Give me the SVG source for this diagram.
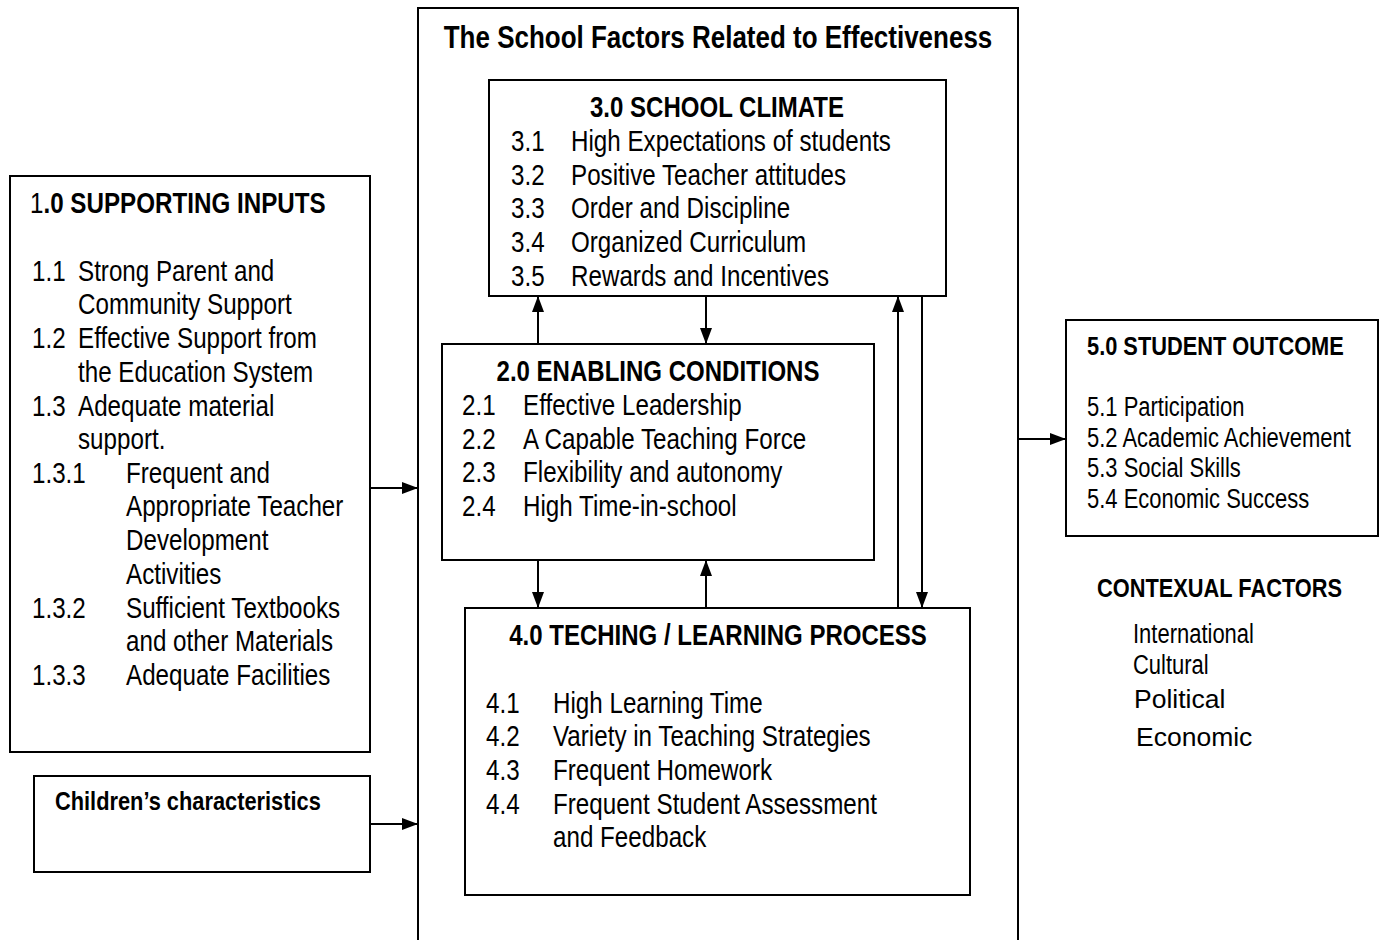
<svg xmlns="http://www.w3.org/2000/svg" width="1382" height="940" viewBox="0 0 1382 940">
<defs>
<marker id="ah" viewBox="0 0 16 12" refX="16" refY="6" markerWidth="16" markerHeight="12" markerUnits="userSpaceOnUse" orient="auto">
<path d="M0,0 L16,6 L0,12 Z" fill="#000"/>
</marker>
<style>
text{font-family:"Liberation Sans Narrow","Liberation Sans",Arial,sans-serif;fill:#000}
.b{font-weight:bold}
.box{fill:#fff;stroke:#000;stroke-width:2}
.n{font-size:29.5px}
.h{font-size:29.3px;font-weight:bold}
.ttl{font-size:31.7px;font-weight:bold}
.s{font-size:26.8px}
.sb{font-size:26.6px;font-weight:bold}
.w{font-size:26.5px}
.con{stroke:#000;stroke-width:2;fill:none;marker-end:url(#ah)}
</style>
</defs>
<rect width="1382" height="940" fill="#fff"/>
<g id="school-factors">
<path d="M418,945 V8 H1018 V945" class="box" fill="none"/>
<text transform="matrix(.82 0 0 1 718 48)" class="ttl" text-anchor="middle">The School Factors Related to Effectiveness</text>
</g>
<g id="supporting-inputs">
<rect x="10" y="176" width="360" height="576" class="box"/>
<text transform="matrix(.82 0 0 1 30 213)" class="n">1<tspan class="b">.0 SUPPORTING INPUTS</tspan></text>
<g class="n">
<text transform="matrix(.82 0 0 1 32 281)">1.1</text><text transform="matrix(.82 0 0 1 78 281)">Strong Parent and</text>
<text transform="matrix(.82 0 0 1 78 314)">Community Support</text>
<text transform="matrix(.82 0 0 1 32 348)">1.2</text><text transform="matrix(.82 0 0 1 78 348)">Effective Support from</text>
<text transform="matrix(.82 0 0 1 78 382)">the Education System</text>
<text transform="matrix(.82 0 0 1 32 416)">1.3</text><text transform="matrix(.82 0 0 1 78 416)">Adequate material</text>
<text transform="matrix(.82 0 0 1 78 449)">support.</text>
<text transform="matrix(.82 0 0 1 32 483)">1.3.1</text><text transform="matrix(.82 0 0 1 126 483)">Frequent and</text>
<text transform="matrix(.82 0 0 1 126 516)">Appropriate Teacher</text>
<text transform="matrix(.82 0 0 1 126 550)">Development</text>
<text transform="matrix(.82 0 0 1 126 584)">Activities</text>
<text transform="matrix(.82 0 0 1 32 618)">1.3.2</text><text transform="matrix(.82 0 0 1 126 618)">Sufficient Textbooks</text>
<text transform="matrix(.82 0 0 1 126 651)">and other Materials</text>
<text transform="matrix(.82 0 0 1 32 685)">1.3.3</text><text transform="matrix(.82 0 0 1 126 685)">Adequate Facilities</text>
</g>
</g>
<g id="children">
<rect x="34" y="776" width="336" height="96" class="box"/>
<text transform="matrix(.82 0 0 1 55 810)" class="sb">Children’s characteristics</text>
</g>
<g id="school-climate">
<rect x="489" y="80" width="457" height="216" class="box"/>
<text transform="matrix(.82 0 0 1 717 117)" class="h" text-anchor="middle">3.0 SCHOOL CLIMATE</text>
<g class="n">
<text transform="matrix(.82 0 0 1 511 151)">3.1</text><text transform="matrix(.82 0 0 1 571 151)">High Expectations of students</text>
<text transform="matrix(.82 0 0 1 511 185)">3.2</text><text transform="matrix(.82 0 0 1 571 185)">Positive Teacher attitudes</text>
<text transform="matrix(.82 0 0 1 511 218)">3.3</text><text transform="matrix(.82 0 0 1 571 218)">Order and Discipline</text>
<text transform="matrix(.82 0 0 1 511 252)">3.4</text><text transform="matrix(.82 0 0 1 571 252)">Organized Curriculum</text>
<text transform="matrix(.82 0 0 1 511 286)">3.5</text><text transform="matrix(.82 0 0 1 571 286)">Rewards and Incentives</text>
</g>
</g>
<g id="enabling-conditions">
<rect x="442" y="344" width="432" height="216" class="box"/>
<text transform="matrix(.82 0 0 1 658 381)" class="h" text-anchor="middle">2.0 ENABLING CONDITIONS</text>
<g class="n">
<text transform="matrix(.82 0 0 1 462 415)">2.1</text><text transform="matrix(.82 0 0 1 523 415)">Effective Leadership</text>
<text transform="matrix(.82 0 0 1 462 449)">2.2</text><text transform="matrix(.82 0 0 1 523 449)">A Capable Teaching Force</text>
<text transform="matrix(.82 0 0 1 462 482)">2.3</text><text transform="matrix(.82 0 0 1 523 482)">Flexibility and autonomy</text>
<text transform="matrix(.82 0 0 1 462 516)">2.4</text><text transform="matrix(.82 0 0 1 523 516)">High Time-in-school</text>
</g>
</g>
<g id="teaching-learning">
<rect x="465" y="608" width="505" height="287" class="box"/>
<text transform="matrix(.82 0 0 1 718 645)" class="h" text-anchor="middle">4.0 TECHING / LEARNING PROCESS</text>
<g class="n">
<text transform="matrix(.82 0 0 1 486 713)">4.1</text><text transform="matrix(.82 0 0 1 553 713)">High Learning Time</text>
<text transform="matrix(.82 0 0 1 486 746)">4.2</text><text transform="matrix(.82 0 0 1 553 746)">Variety in Teaching Strategies</text>
<text transform="matrix(.82 0 0 1 486 780)">4.3</text><text transform="matrix(.82 0 0 1 553 780)">Frequent Homework</text>
<text transform="matrix(.82 0 0 1 486 814)">4.4</text><text transform="matrix(.82 0 0 1 553 814)">Frequent Student Assessment</text>
<text transform="matrix(.82 0 0 1 553 847)">and Feedback</text>
</g>
</g>
<g id="student-outcome">
<rect x="1066" y="320" width="312" height="216" class="box"/>
<text transform="matrix(.82 0 0 1 1087 355)" class="sb">5.0 STUDENT OUTCOME</text>
<g class="s">
<text transform="matrix(.82 0 0 1 1087 416)">5.1 Participation</text>
<text transform="matrix(.82 0 0 1 1087 447)">5.2 Academic Achievement</text>
<text transform="matrix(.82 0 0 1 1087 477)">5.3 Social Skills</text>
<text transform="matrix(.82 0 0 1 1087 508)">5.4 Economic Success</text>
</g>
</g>
<g id="contextual-factors">
<text transform="matrix(.82 0 0 1 1097 597)" class="sb">CONTEXUAL FACTORS</text>
<text transform="matrix(.82 0 0 1 1133 643)" class="s">International</text>
<text transform="matrix(.82 0 0 1 1133 674)" class="s">Cultural</text>
<text x="1134" y="708" class="w">Political</text>
<text x="1136" y="746" class="w">Economic</text>
</g>
<g id="connectors">
<line x1="370" y1="488" x2="418" y2="488" class="con"/>
<line x1="370" y1="824" x2="418" y2="824" class="con"/>
<line x1="1018" y1="439" x2="1066" y2="439" class="con"/>
<line x1="538" y1="344" x2="538" y2="296" class="con"/>
<line x1="706" y1="296" x2="706" y2="344" class="con"/>
<line x1="538" y1="560" x2="538" y2="608" class="con"/>
<line x1="706" y1="608" x2="706" y2="560" class="con"/>
<line x1="898" y1="608" x2="898" y2="296" class="con"/>
<line x1="922" y1="296" x2="922" y2="608" class="con"/>
</g>
</svg>
